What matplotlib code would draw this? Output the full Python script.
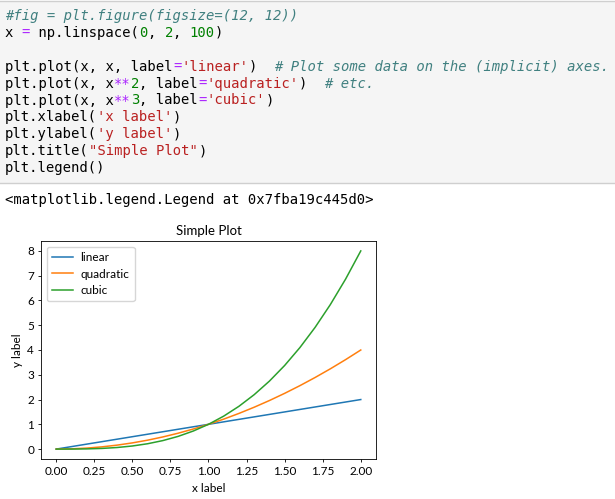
import matplotlib
matplotlib.use("Agg")
import matplotlib.pyplot as plt
from matplotlib.patches import Rectangle

# values
x_vals = [0.0, 0.1, 0.2, 0.3, 0.4, 0.5, 0.6, 0.7, 0.8, 0.9, 1.0,
          1.1, 1.2, 1.3, 1.4, 1.5, 1.6, 1.7, 1.8, 1.9, 2.0]
linear = [0.0, 0.1, 0.2, 0.3, 0.4, 0.5, 0.6, 0.7, 0.8, 0.9, 1.0,
          1.1, 1.2, 1.3, 1.4, 1.5, 1.6, 1.7, 1.8, 1.9, 2.0]
quadratic = [0.0, 0.01, 0.04, 0.09, 0.16, 0.25, 0.36, 0.49, 0.64, 0.81, 1.0,
             1.21, 1.44, 1.69, 1.96, 2.25, 2.56, 2.89, 3.24, 3.61, 4.0]
cubic = [0.0, 0.001, 0.008, 0.027, 0.064, 0.125, 0.216, 0.343, 0.512, 0.729, 1.0,
         1.331, 1.728, 2.197, 2.744, 3.375, 4.096, 4.913, 5.832, 6.859, 8.0]
labels = ['linear', 'quadratic', 'cubic']
xticks = [0.0, 0.25, 0.5, 0.75, 1.0, 1.25, 1.5, 1.75, 2.0]

# code cell tokens: (text, kind)
code_lines = [
    [("#fig = plt.figure(figsize=(12, 12))", "c")],
    [("x ", "t"), ("=", "o"), (" np.linspace(", "t"), ("0", "n"), (", ", "t"),
     ("2", "n"), (", ", "t"), ("100", "n"), (")", "t")],
    [],
    [("plt.plot(x, x, label", "t"), ("=", "o"), ("'linear'", "s"), (")  ", "t"),
     ("# Plot some data on the (implicit) axes.", "c")],
    [("plt.plot(x, x", "t"), ("**", "o"), ("2", "n"), (", label", "t"), ("=", "o"),
     ("'quadratic'", "s"), (")  ", "t"), ("# etc.", "c")],
    [("plt.plot(x, x", "t"), ("**", "o"), ("3", "n"), (", label", "t"), ("=", "o"),
     ("'cubic'", "s"), (")", "t")],
    [("plt.xlabel(", "t"), ("'x label'", "s"), (")", "t")],
    [("plt.ylabel(", "t"), ("'y label'", "s"), (")", "t")],
    [("plt.title(", "t"), ('"Simple Plot"', "s"), (")", "t")],
    [("plt.legend()", "t")],
]
output_text = "<matplotlib.legend.Legend at 0x7fba19c445d0>"

colors = {"t": "#000000", "o": "#AA22FF", "n": "#008000", "s": "#BA2121", "c": "#408080"}

W, H = 615, 499
fig = plt.figure(figsize=(W / 100, H / 100), dpi=100)

# code cell background
fig.patches.append(Rectangle((0, 1 - 183 / H), 1, 182 / H, transform=fig.transFigure,
                             facecolor="#f5f5f5", edgecolor="none", zorder=0))
fig.add_artist(plt.Line2D([0, 1], [1 - 183 / H] * 2, transform=fig.transFigure,
                          color="#cfcfcf", lw=1))
fig.add_artist(plt.Line2D([0, 1], [1 - 1 / H] * 2, transform=fig.transFigure,
                          color="#cfcfcf", lw=1))

mono = "DejaVu Sans Mono"
fs = 10
adv = 8.4
for i, toks in enumerate(code_lines):
    y = 16 + 16.9 * i
    n = 0
    for txt, kind in toks:
        fig.text((5 + n * adv) / W, 1 - y / H, txt, family=mono, fontsize=fs,
                 color=colors[kind], style="italic" if kind == "c" else "normal",
                 va="center", ha="left")
        n += len(txt)
fig.text(5 / W, 1 - 200 / H, output_text, family=mono, fontsize=fs,
         color="black", va="center", ha="left")

# the plot itself
plt.rcParams['font.family'] = ['Lato', 'DejaVu Sans']
sz = 8.5
ax = fig.add_axes([41 / W, 40 / H, 335 / W, 218 / H])
for ys, lab in zip([linear, quadratic, cubic], labels):
    ax.plot(x_vals, ys, label=lab, lw=1.1)
ax.set_xticks(xticks)
ax.tick_params(labelsize=sz, length=2.5, width=0.6, pad=2.5)
for s in ax.spines.values():
    s.set_linewidth(0.6)
ax.set_xlabel('x label', fontsize=sz, labelpad=4)
ax.set_ylabel('y label', fontsize=sz, labelpad=3)
ax.set_title("Simple Plot", fontsize=9.5, pad=4)
ax.legend(fontsize=sz, loc="upper left", handlelength=1.8, borderpad=0.45,
          labelspacing=0.45, handletextpad=0.6, framealpha=0.8)

fig.savefig("out.png", dpi=100)
